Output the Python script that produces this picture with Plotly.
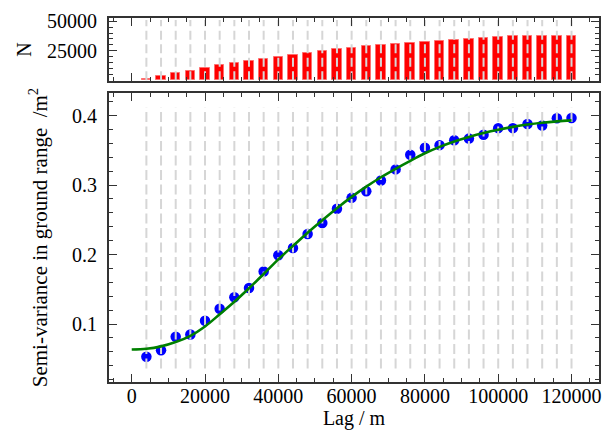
import plotly.graph_objects as go

# Lag bins (m)
lags = [4000, 8000, 12000, 16000, 20000, 24000, 28000, 32000, 36000, 40000,
        44000, 48000, 52000, 56000, 60000, 64000, 68000, 72000, 76000, 80000,
        84000, 88000, 92000, 96000, 100000, 104000, 108000, 112000, 116000, 120000]

# Number of point pairs per lag bin
pair_counts = [830, 3330, 5830, 7780, 10280, 12500, 14440, 16110, 18060, 20000,
               21390, 22780, 24440, 26110, 26940, 28610, 30000, 30830, 31940, 32500,
               33610, 34440, 35280, 35830, 36390, 37220, 37220, 37780, 37780, 37500]

# Experimental semi-variance per lag bin (m^2)
semivar = [0.0528, 0.0622, 0.0816, 0.0849, 0.1047, 0.1220, 0.1386, 0.1518, 0.1755, 0.1991,
           0.2095, 0.2297, 0.2453, 0.2660, 0.2816, 0.2911, 0.3066, 0.3226, 0.3438, 0.3537,
           0.3575, 0.3646, 0.3669, 0.3726, 0.3820, 0.3820, 0.3880, 0.3858, 0.3962, 0.3966]

# Fitted variogram model, sampled at the origin and at each lag
model_lag = [0] + lags
model_gamma = [0.0632, 0.0643, 0.0678, 0.0740, 0.0830, 0.0965, 0.1140, 0.1320, 0.1515, 0.1720,
               0.1930, 0.2125, 0.2315, 0.2495, 0.2668, 0.2830, 0.2978, 0.3113, 0.3235, 0.3350,
               0.3458, 0.3550, 0.3628, 0.3693, 0.3750, 0.3798, 0.3838, 0.3871, 0.3897, 0.3917,
               0.3932]

x_ticks = [0, 20000, 40000, 60000, 80000, 100000, 120000]
n_ticks = [25000, 50000]

X_RANGE = [-6200, 127500]
N_RANGE = [-600, 52700]
G_RANGE = [0.0165, 0.4325]

FONT = "Liberation Serif, Times New Roman, DejaVu Serif, serif"
FONT_SIZE = 20
AXIS_COLOR = "#333333"
GRID_COLOR = "#d6d6d6"


def guide_lines(xs, y0, y1):
    """Vertical guide segments at each lag, separated by gaps."""
    gx, gy = [], []
    for x in xs:
        gx += [x, x, None]
        gy += [y0, y1, None]
    return gx, gy


fig = go.Figure()

# Top panel: pair counts
fig.add_trace(go.Bar(
    x=lags, y=pair_counts, width=2600,
    marker=dict(color="rgb(255,0,0)", line=dict(color="rgb(255,110,110)", width=1)),
    xaxis="x2", yaxis="y2", showlegend=False,
))
gx, gy = guide_lines(lags, 0, 51000)
fig.add_trace(go.Scatter(
    x=gx, y=gy, mode="lines", xaxis="x2", yaxis="y2", showlegend=False,
    line=dict(color=GRID_COLOR, width=2, dash="9px,4.5px"), hoverinfo="skip",
))

# Bottom panel: experimental variogram and model
fig.add_trace(go.Scatter(
    x=lags, y=semivar, mode="markers", showlegend=False,
    marker=dict(color="rgb(0,0,255)", size=10.5, line=dict(width=0)),
))
gx, gy = guide_lines(lags, 0.036, 0.412)
fig.add_trace(go.Scatter(
    x=gx, y=gy, mode="lines", showlegend=False,
    line=dict(color=GRID_COLOR, width=2, dash="10px,4.5px"), hoverinfo="skip",
))
fig.add_trace(go.Scatter(
    x=model_lag, y=model_gamma, mode="lines", showlegend=False,
    line=dict(color="rgb(0,128,0)", width=2.6, shape="spline", smoothing=1.0),
))

tick_font = dict(family=FONT, size=FONT_SIZE, color="black")
title_font = dict(family=FONT, size=21, color="black")
axis_common = dict(
    showline=True, linecolor=AXIS_COLOR, linewidth=2, mirror="allticks",
    ticks="inside", ticklen=8, tickwidth=1.3, tickcolor=AXIS_COLOR,
    showgrid=False, zeroline=False, tickfont=tick_font,
)

fig.update_layout(
    width=611, height=445,
    margin=dict(l=109, r=10, t=12, b=63),
    paper_bgcolor="white", plot_bgcolor="white",
    font=dict(family=FONT, size=FONT_SIZE, color="black"),
    bargap=0,
    xaxis=dict(
        **axis_common, domain=[0, 1], range=X_RANGE, anchor="y",
        tickvals=x_ticks, tickformat="d", ticklabelstandoff=-5,
        minor=dict(ticks="inside", dtick=5000, tick0=0, ticklen=4, tickcolor=AXIS_COLOR),
        title=dict(text="Lag / m", font=tick_font, standoff=4),
    ),
    yaxis=dict(
        **axis_common, domain=[0, 0.7938], range=G_RANGE, anchor="x",
        dtick=0.1, tick0=0, tickformat=".1f", ticklabelstandoff=6,
        minor=dict(ticks="inside", dtick=0.02, tick0=0, ticklen=4, tickcolor=AXIS_COLOR),
        title=dict(text="Semi-variance in ground range  /m<sup>2</sup>",
                   font=title_font, standoff=19),
    ),
    xaxis2=dict(
        **axis_common, domain=[0, 1], range=X_RANGE, anchor="y2",
        tickvals=x_ticks, showticklabels=False,
        minor=dict(ticks="inside", dtick=5000, tick0=0, ticklen=4, tickcolor=AXIS_COLOR),
    ),
    yaxis2=dict(
        **axis_common, domain=[0.827, 1], range=N_RANGE, anchor="x2",
        tickvals=n_ticks, tickformat="d", ticklabelstandoff=6,
        minor=dict(ticks="inside", dtick=5000, tick0=0, ticklen=4, tickcolor=AXIS_COLOR),
        title=dict(text="N", font=tick_font, standoff=10),
    ),
)

fig.write_html("out.html")
